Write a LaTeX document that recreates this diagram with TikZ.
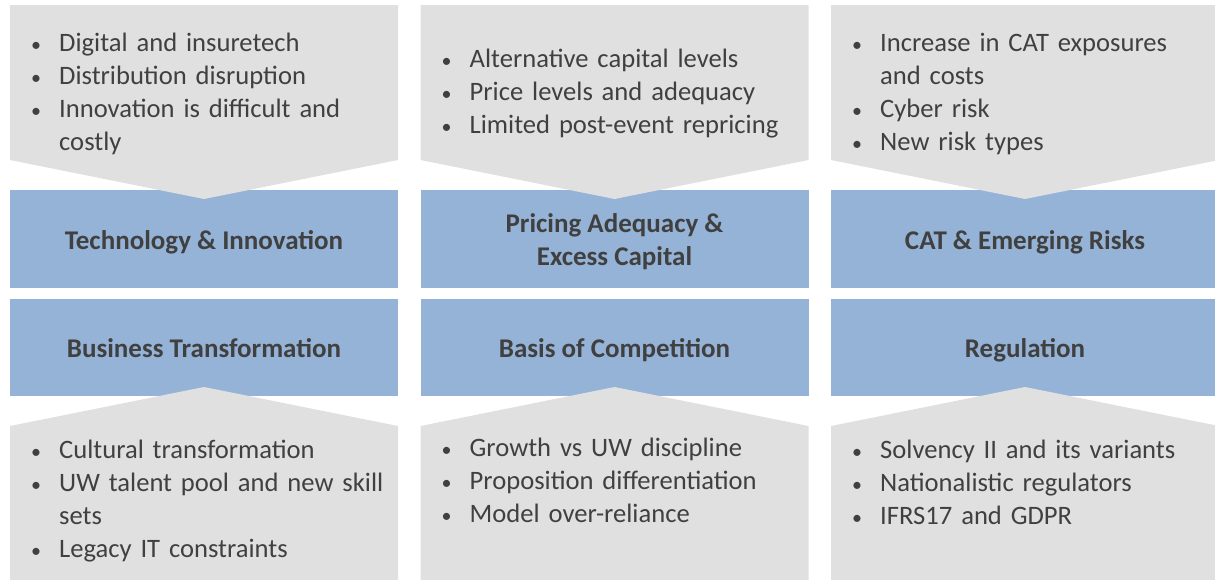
\documentclass[tikz,border=0pt]{standalone}
\usepackage{fontspec}
\setmainfont{Carlito}

\definecolor{paneGrey}{HTML}{E0E0E0}
\definecolor{headBlue}{HTML}{95B3D7}
\definecolor{inkGrey}{HTML}{404040}

% one bullet point, wrapped lines hang under the text
\newcommand{\bitem}{\par\noindent\hangindent=30pt\hangafter=1\strut
  \makebox[30pt][l]{\hspace{2pt}{\fontsize{20}{33}\selectfont\textbullet}}}

\tikzset{
  head/.style={fill=headBlue, minimum width=388pt, inner sep=0pt, align=center,
    text height=20pt, text depth=0pt,
    text=inkGrey, font=\bfseries\fontsize{27}{33}\selectfont},
  bullets/.style={inner sep=0pt, text width=375pt, align=left,
    text=inkGrey, font=\fontsize{26.6}{33}\selectfont}
}

\begin{document}
\begin{tikzpicture}[x=1pt,y=-1pt]
\useasboundingbox (0,0) rectangle (1215,579);

% Header boxes
\node[head, minimum height=98pt] (tech) at (204,239) {Technology \& Innovation};
\node[head, minimum height=98pt, text height=53pt] (pricing) at (614.5,239) {Pricing Adequacy \&\\Excess Capital};
\node[head, minimum height=98pt] (cat) at (1025,239) {CAT \& Emerging Risks};
\node[head, minimum height=97pt] (business) at (204,347.5) {Business Transformation};
\node[head, minimum height=97pt] (basis) at (614.5,347.5) {Basis of Competition};
\node[head, minimum height=97pt] (regulation) at (1025,347.5) {Regulation};

% Grey panels pointing down onto the top row
\fill[paneGrey] (10,5) -- (398,5) -- (398,160) -- (204,199) -- (10,160) -- cycle;
\fill[paneGrey] (420.5,5) -- (808.5,5) -- (808.5,160) -- (614.5,199) -- (420.5,160) -- cycle;
\fill[paneGrey] (831,5) -- (1219,5) -- (1219,160) -- (1025,199) -- (831,160) -- cycle;

% Grey panels pointing up into the bottom row
\fill[paneGrey] (10,585) -- (10,426) -- (204,387) -- (398,426) -- (398,585) -- cycle;
\fill[paneGrey] (420.5,585) -- (420.5,426) -- (614.5,387) -- (808.5,426) -- (808.5,585) -- cycle;
\fill[paneGrey] (831,585) -- (831,426) -- (1025,387) -- (1219,426) -- (1219,585) -- cycle;

% Top lists
\node[bullets, anchor=west] (techlist) at (29,89)
  {\bitem Digital and insuretech\strut
   \bitem Distribution disruption\strut
   \bitem Innovation is difficult and\newline costly\strut\par};
\node[bullets, anchor=west] (pricinglist) at (439.5,89)
  {\bitem Alternative capital levels\strut
   \bitem Price levels and adequacy\strut
   \bitem Limited post-event repricing\strut\par};
\node[bullets, anchor=west] (catlist) at (850,89)
  {\bitem Increase in CAT exposures\newline and costs\strut
   \bitem Cyber risk\strut
   \bitem New risk types\strut\par};

% Bottom lists
\node[bullets, anchor=north west] (businesslist) at (29,425)
  {\bitem Cultural transformation\strut
   \bitem UW talent pool and new skill\newline sets\strut
   \bitem Legacy IT constraints\strut\par};
\node[bullets, anchor=north west] (basislist) at (439.5,423)
  {\bitem Growth vs UW discipline\strut
   \bitem Proposition differentiation\strut
   \bitem Model over-reliance\strut\par};
\node[bullets, anchor=north west] (regulationlist) at (850,425)
  {\bitem Solvency II and its variants\strut
   \bitem Nationalistic regulators\strut
   \bitem IFRS17 and GDPR\strut\par};
\end{tikzpicture}
\end{document}
